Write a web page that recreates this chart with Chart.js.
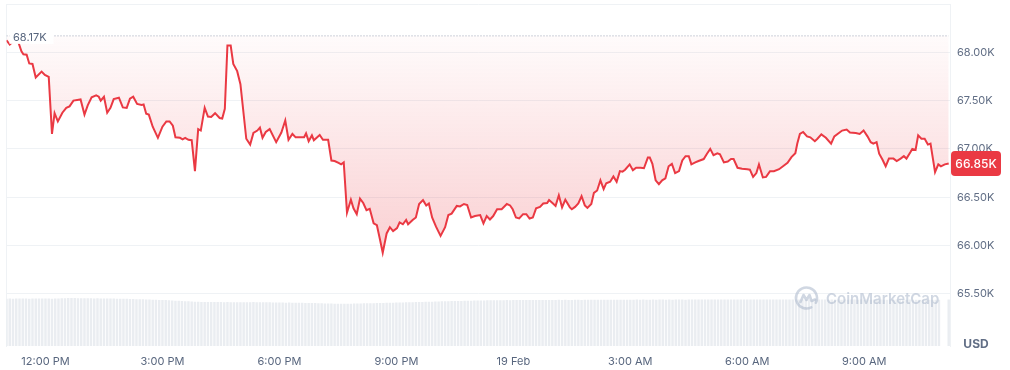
<!DOCTYPE html>
<html>
<head>
  <title>BTC / USD - 24h</title>
  <script src="https://cdn.jsdelivr.net/npm/chart.js"></script>
  <style>
    body { margin: 0; background: #fff; }
    canvas { display: block; }
  </style>
</head>
<body>
  <canvas id="priceChart" width="1010" height="370"></canvas>

  <script>
    // minutes since 11:00 AM, 18 Feb
    const times = [
      0, 5, 10, 15, 23, 26, 31, 35, 40, 45, 54, 59, 65, 70, 74, 79, 86, 92, 97, 103,
      114, 120, 125, 131, 138, 142, 145, 150, 155, 160, 165, 173, 179, 185, 190, 195, 201, 208, 211, 215,
      219, 225, 233, 240, 246, 251, 256, 260, 267, 271, 275, 280, 285, 290, 295, 299, 305, 310, 315, 321,
      328, 332, 336, 340, 345, 349, 355, 360, 369, 375, 380, 386, 390, 394, 399, 405, 415, 423, 429, 434,
      440, 445, 458, 461, 465, 470, 473, 482, 487, 495, 500, 505, 511, 515, 519, 524, 530, 534, 539, 544,
      549, 554, 559, 565, 570, 575, 579, 585, 590, 595, 601, 605, 610, 615, 618, 625, 630, 635, 641, 646,
      650, 655, 661, 668, 675, 680, 685, 693, 698, 704, 709, 715, 721, 729, 734, 739, 744, 749, 755, 762,
      770, 775, 779, 784, 789, 795, 800, 805, 810, 815, 821, 826, 832, 835, 841, 845, 850, 855, 860, 867,
      870, 875, 880, 885, 890, 894, 900, 904, 909, 914, 919, 923, 929, 934, 939, 944, 948, 952, 959, 964,
      969, 976, 981, 987, 990, 994, 999, 1004, 1009, 1014, 1019, 1024, 1029, 1035, 1040, 1045, 1050, 1054, 1060, 1065,
      1073, 1078, 1083, 1088, 1094, 1098, 1104, 1110, 1115, 1119, 1125, 1132, 1140, 1144, 1149, 1154, 1158, 1164, 1169, 1175,
      1181, 1189, 1195, 1202, 1208, 1214, 1217, 1221, 1226, 1232, 1237, 1244, 1248, 1254, 1261, 1269, 1274, 1281, 1286, 1293,
      1298, 1307, 1313, 1319, 1325, 1330, 1334, 1339, 1343, 1348, 1353, 1358, 1365, 1370, 1376, 1381, 1385, 1391, 1394, 1399,
      1403, 1408, 1413, 1418, 1422, 1429, 1434, 1438, 1444, 1450
    ];

    const prices = [
      68125, 68080, 68110, 68170, 68010, 67980, 67975, 67885, 67880, 67740, 67800, 67765, 67745, 67155, 67370, 67285, 67375, 67425, 67440, 67500,
      67512, 67355, 67450, 67535, 67555, 67540, 67500, 67540, 67375, 67425, 67515, 67530, 67430, 67425, 67520, 67540, 67465, 67455, 67460, 67365,
      67355, 67230, 67115, 67230, 67285, 67285, 67240, 67120, 67115, 67100, 67115, 67095, 67090, 66770, 67205, 67190, 67425, 67335, 67330, 67370,
      67320, 67315, 67415, 68070, 68070, 67880, 67805, 67670, 67105, 67045, 67165, 67190, 67220, 67115, 67175, 67205, 67070, 67170, 67295, 67095,
      67155, 67120, 67120, 67160, 67080, 67140, 67090, 67145, 67095, 67095, 66880, 66875, 66855, 66840, 66860, 66340, 66475, 66385, 66325, 66485,
      66440, 66365, 66380, 66230, 66210, 66055, 65925, 66125, 66190, 66150, 66180, 66240, 66220, 66265, 66220, 66265, 66290, 66430, 66470, 66415,
      66435, 66290, 66195, 66100, 66190, 66315, 66330, 66410, 66405, 66430, 66420, 66290, 66305, 66315, 66230, 66305, 66270, 66305, 66375, 66375,
      66430, 66415, 66375, 66290, 66280, 66325, 66325, 66280, 66290, 66385, 66400, 66435, 66440, 66470, 66435, 66410, 66520, 66395, 66475, 66395,
      66375, 66400, 66435, 66510, 66415, 66390, 66430, 66545, 66570, 66675, 66585, 66645, 66660, 66715, 66660, 66770, 66765, 66785, 66840, 66780,
      66805, 66805, 66800, 66910, 66910, 66845, 66675, 66635, 66675, 66695, 66820, 66845, 66750, 66770, 66880, 66925, 66925, 66840, 66860, 66875,
      66895, 66950, 67000, 66935, 66955, 66945, 66860, 66870, 66895, 66895, 66805, 66795, 66790, 66785, 66710, 66750, 66840, 66705, 66710, 66770,
      66770, 66790, 66820, 66855, 66915, 66955, 67055, 67155, 67175, 67130, 67120, 67080, 67105, 67150, 67115, 67055, 67130, 67165, 67190, 67200,
      67170, 67165, 67155, 67190, 67130, 67070, 67055, 67070, 66950, 66890, 66820, 66900, 66900, 66875, 66900, 66925, 66900, 66965, 67000, 66990,
      67140, 67105, 67105, 67045, 67055, 66760, 66840, 66820, 66840, 66850
    ];

    const openPrice = 68170;

    // 24h volume, billions USD, one bar every 5 minutes from 11:00 AM
    const volStep = 5;
    const volumes = [
      16.62, 16.65, 16.60, 16.66, 16.64, 16.63, 16.67, 16.61, 16.64, 16.66, 16.63, 16.65,
      16.64, 16.66, 16.62, 16.67, 16.70, 16.72, 16.78, 16.82, 16.80, 16.84, 16.79, 16.76,
      16.74, 16.72, 16.75, 16.71, 16.73, 16.70, 16.68, 16.71, 16.69, 16.66, 16.62, 16.60,
      16.58, 16.55, 16.50, 16.47, 16.44, 16.40, 16.38, 16.33, 16.30, 16.27, 16.22, 16.18,
      16.14, 16.10, 16.02, 15.96, 15.90, 15.84, 15.78, 15.72, 15.66, 15.60, 15.55, 15.50,
      15.47, 15.45, 15.48, 15.43, 15.41, 15.44, 15.40, 15.38, 15.42, 15.37, 15.39, 15.36,
      15.35, 15.38, 15.34, 15.36, 15.40, 15.37, 15.33, 15.35, 15.31, 15.34, 15.30, 15.28,
      15.25, 15.22, 15.20, 15.23, 15.18, 15.16, 15.14, 15.17, 15.12, 15.10, 15.08, 15.06,
      15.03, 14.98, 14.95, 14.92, 14.88, 14.85, 14.82, 14.80, 14.82, 14.84, 14.86, 14.88,
      14.90, 14.93, 14.96, 14.99, 15.02, 15.04, 15.07, 15.10, 15.12, 15.15, 15.18, 15.20,
      15.24, 15.27, 15.30, 15.33, 15.36, 15.39, 15.42, 15.45, 15.48, 15.50, 15.53, 15.56,
      15.60, 15.63, 15.66, 15.70, 15.72, 15.75, 15.78, 15.80, 15.83, 15.85, 15.88, 15.90,
      15.93, 15.95, 15.98, 16.00, 16.02, 16.04, 16.06, 16.08, 16.05, 16.09, 16.10, 16.08,
      16.12, 16.10, 16.14, 16.11, 16.15, 16.13, 16.10, 16.16, 16.12, 16.14, 16.18, 16.15,
      16.17, 16.14, 16.19, 16.16, 16.20, 16.18, 16.15, 16.21, 16.19, 16.17, 16.22, 16.20,
      16.23, 16.19, 16.24, 16.21, 16.25, 16.22, 16.20, 16.26, 16.23, 16.21, 16.27, 16.24,
      16.26, 16.22, 16.28, 16.25, 16.29, 16.24, 16.27, 16.30, 16.26, 16.28, 16.31, 16.27,
      16.29, 16.26, 16.32, 16.28, 16.30, 16.27, 16.33, 16.29, 16.31, 16.28, 16.34, 16.30,
      16.32, 16.29, 16.33, 16.30, 16.35, 16.31, 16.28, 16.34, 16.30, 16.33, 16.29, 16.32,
      16.30, 16.34, 16.31, 16.28, 16.33, 16.30, 16.35, 16.31, 16.29, 16.32, 16.30, 16.34,
      16.31, 16.29, 16.33, 16.30, 16.28, 16.32, 16.29, 16.31, 16.27, 16.30, 16.28, 16.32,
      16.29, 16.27, 16.31, 16.28, 16.30, 16.26, 16.29, 16.27, 16.30, 16.28, 16.25, 16.29,
      16.27, 16.30, 16.26, 16.28, 16.25, 16.29, 16.27, 16.24, 16.28, 16.26, 16.29, 16.25,
      16.27, 16.24, 16.28, 16.26, 16.23, 16.27, 16.25, 16.28, 16.24, 16.26, 16.22, 16.25,
      null, null, 16.30
    ];

    const tickMinutes = [60, 240, 420, 600, 780, 960, 1140, 1320];
    const tickLabels = ['12:00 PM', '3:00 PM', '6:00 PM', '9:00 PM', '19 Feb', '3:00 AM', '6:00 AM', '9:00 AM'];
    const priceTicks = [65500, 66000, 66500, 67000, 67500, 68000, 68500];

    const RED = '#ea3943';
    const fmtK = v => (v / 1000).toFixed(2) + 'K';

    Chart.defaults.font.family = 'Inter';
    Chart.defaults.font.size = 11;
    Chart.defaults.color = '#58667e';

    // open price label, last price tag, USD, watermark
    const overlay = {
      id: 'overlay',
      afterDraw(chart) {
        const { ctx, chartArea, scales } = chart;
        const y = scales.y;
        ctx.save();

        // watermark
        const cx = 806.5, cy = 298;
        ctx.strokeStyle = 'rgba(170,182,202,0.55)';
        ctx.lineWidth = 2.6;
        ctx.lineCap = 'round';
        ctx.lineJoin = 'round';
        ctx.beginPath();
        ctx.arc(cx, cy, 10.5, 0.35 * Math.PI, 2.15 * Math.PI);
        ctx.stroke();
        ctx.beginPath();
        ctx.moveTo(cx - 6, cy + 4);
        ctx.lineTo(cx - 3, cy - 3);
        ctx.lineTo(cx, cy + 2);
        ctx.lineTo(cx + 3, cy - 3);
        ctx.lineTo(cx + 5, cy + 3);
        ctx.lineTo(cx + 8.5, cy + 1.5);
        ctx.stroke();
        ctx.fillStyle = 'rgba(170,182,202,0.55)';
        ctx.font = '600 15px Inter';
        ctx.textBaseline = 'middle';
        ctx.fillText('CoinMarketCap', 826, cy + 1);

        // open price label over the dotted line
        const oy = y.getPixelForValue(openPrice);
        ctx.fillStyle = '#fff';
        ctx.fillRect(chartArea.left + 3, oy - 7, 44, 15);
        ctx.fillStyle = '#58667e';
        ctx.font = '11px Inter';
        ctx.fillText(fmtK(openPrice), chartArea.left + 6.5, oy + 1.5);

        // last price tag
        const last = prices[prices.length - 1];
        const ly = y.getPixelForValue(last);
        ctx.fillStyle = RED;
        ctx.beginPath();
        ctx.roundRect(chartArea.right + 1, ly - 12.5, 50, 25, 4);
        ctx.fill();
        ctx.fillStyle = '#fff';
        ctx.font = '500 12px Inter';
        ctx.textAlign = 'center';
        ctx.fillText(fmtK(last), chartArea.right + 26, ly + 0.5);

        // currency
        ctx.fillStyle = '#616e85';
        ctx.font = 'bold 12px Inter';
        ctx.fillText('USD', 976, chartArea.bottom - 2);
        ctx.restore();
      }
    };

    const fillGradient = (context) => {
      const { chart } = context;
      if (!chart.chartArea) return 'rgba(234,57,67,0.08)';
      const y = chart.scales.y;
      const g = chart.ctx.createLinearGradient(0, y.getPixelForValue(openPrice), 0, y.getPixelForValue(65900));
      g.addColorStop(0, 'rgba(234,57,67,0.02)');
      g.addColorStop(1, 'rgba(234,57,67,0.24)');
      return g;
    };

    const ctx = document.getElementById('priceChart').getContext('2d');
    new Chart(ctx, {
      data: {
        datasets: [
          {
            type: 'line',
            data: times.map((t, i) => ({ x: t, y: prices[i] })),
            borderColor: RED,
            borderWidth: 2,
            pointRadius: 0,
            tension: 0,
            fill: { value: openPrice },
            backgroundColor: fillGradient,
            yAxisID: 'y',
            order: 0
          },
          {
            type: 'line',
            data: [{ x: 0, y: openPrice }, { x: 1450, y: openPrice }],
            borderColor: '#9aa3b5',
            borderWidth: 1,
            borderDash: [1, 2],
            pointRadius: 0,
            fill: false,
            yAxisID: 'y',
            order: 1
          },
          {
            type: 'bar',
            data: volumes.map((v, i) => ({ x: i * volStep, y: v })),
            backgroundColor: '#eaedf1',
            barPercentage: 0.75,
            categoryPercentage: 1,
            yAxisID: 'yv',
            order: 2
          }
        ]
      },
      options: {
        responsive: false,
        animation: false,
        devicePixelRatio: 1,
        layout: { padding: { top: 4 } },
        plugins: { legend: { display: false }, tooltip: { enabled: false } },
        scales: {
          x: {
            type: 'linear',
            min: 0,
            max: 1452,
            offset: false,
            grid: { display: false, drawTicks: false },
            border: { display: false },
            afterBuildTicks: axis => { axis.ticks = tickMinutes.map(v => ({ value: v })); },
            afterFit: axis => { axis.height = 24; axis.paddingLeft = 0; axis.paddingRight = 0; },
            ticks: {
              autoSkip: false,
              maxRotation: 0,
              padding: 9,
              color: '#58667e',
              callback: v => tickLabels[tickMinutes.indexOf(v)]
            }
          },
          y: {
            position: 'right',
            min: 64960,
            max: 68500,
            grid: { color: '#eff2f5', drawTicks: false },
            border: { color: '#eff2f5' },
            afterBuildTicks: axis => { axis.ticks = priceTicks.map(v => ({ value: v })); },
            afterFit: axis => { axis.width = 60; axis.paddingTop = 0; axis.paddingBottom = 0; },
            ticks: {
              padding: 7,
              color: '#616e85',
              callback: v => (v === 68500 ? '' : fmtK(v))
            }
          },
          yv: {
            position: 'left',
            min: 0,
            max: 120,
            grid: { display: false },
            border: { color: '#eff2f5' },
            afterFit: axis => { axis.width = 6.5; axis.paddingTop = 0; axis.paddingBottom = 0; },
            ticks: { display: false }
          }
        }
      },
      plugins: [overlay]
    });
  </script>
</body>
</html>
